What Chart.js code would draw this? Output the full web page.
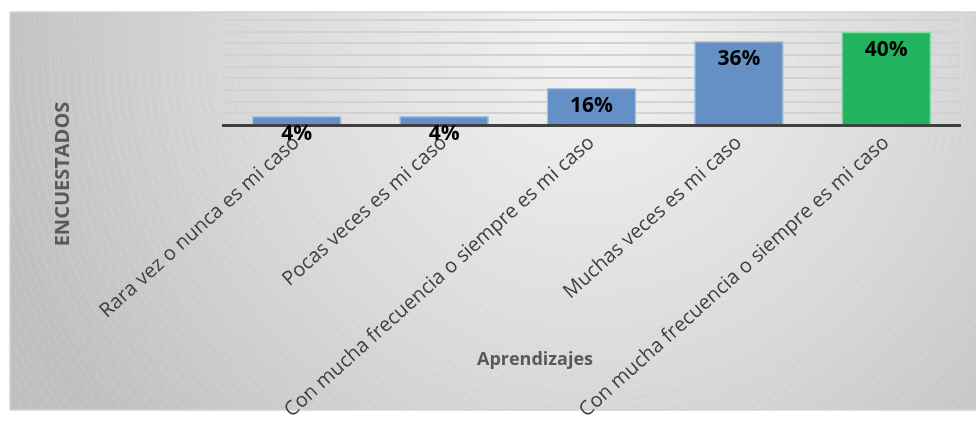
<!DOCTYPE html>
<html>
<head>
<meta charset="utf-8">
<script src="https://cdn.jsdelivr.net/npm/chart.js@4"></script>
<style>
  html, body { margin: 0; padding: 0; background: #ffffff; }
  #wrap { width: 976px; height: 427px; }
</style>
</head>
<body>
<div id="wrap"><canvas id="chart1"></canvas></div>
<script>
const categories = [
  "Rara vez o nunca es mi caso",
  "Pocas veces es mi caso",
  "Con mucha frecuencia o siempre es mi caso",
  "Muchas veces es mi caso",
  "Con mucha frecuencia o siempre es mi caso"
];
const percents = [4, 4, 16, 36, 40];
const barColors = ["#6590c5", "#6590c5", "#6590c5", "#6590c5", "#22b35e"];
const barBorders = ["#a9c3e0", "#a9c3e0", "#a9c3e0", "#a9c3e0", "#86d9a6"];

// gray panel with a soft radial light behind the chart
const panelBg = {
  id: "panelBg",
  beforeDraw(chart) {
    const c = chart.ctx;
    c.save();
    const x0 = 10, y0 = 12, x1 = 976, y1 = 410;
    const g = c.createRadialGradient(590, 40, 0, 590, 40, 620);
    g.addColorStop(0, "#f3f3f3");
    g.addColorStop(0.55, "#d9d9d9");
    g.addColorStop(1, "#bfbfbf");
    c.fillStyle = g;
    c.fillRect(x0, y0, x1 - x0, y1 - y0);
    // faint concentric rings
    c.beginPath();
    c.rect(x0, y0, x1 - x0, y1 - y0);
    c.clip();
    c.strokeStyle = "rgba(255,255,255,0.2)";
    c.lineWidth = 1;
    c.setLineDash([6, 3]);
    for (let r = 20; r < 800; r += 8) {
      c.beginPath();
      c.arc(590, 40, r, 0, Math.PI * 2);
      c.stroke();
    }
    c.restore();
    c.save();
    c.strokeStyle = "#d4d4d4";
    c.lineWidth = 1.5;
    c.beginPath();
    c.moveTo(x0, y0); c.lineTo(x1, y0);
    c.moveTo(x0, y1); c.lineTo(x1, y1);
    c.moveTo(x0, y0); c.lineTo(x0, y1);
    c.stroke();
    c.restore();
  }
};

// value labels and axis titles
const barLabels = {
  id: "barLabels",
  afterDatasetsDraw(chart) {
    const c = chart.ctx;
    const meta = chart.getDatasetMeta(0);
    c.save();
    c.font = "bold 21px 'Open Sans'";
    c.fillStyle = "#000000";
    c.textAlign = "center";
    c.textBaseline = "middle";
    meta.data.forEach((bar, i) => {
      c.fillText(percents[i] + "%", bar.x, bar.y + 18);
    });
    c.fillStyle = "#595959";
    c.font = "bold 18px 'Open Sans'";
    c.fillText("Aprendizajes", 535, 360);
    c.translate(63, 174);
    c.rotate(-Math.PI / 2);
    c.font = "bold 20px 'Open Sans'";
    c.fillText("ENCUESTADOS", 0, 0);
    c.restore();
  }
};

new Chart(document.getElementById("chart1").getContext("2d"), {
  type: "bar",
  data: {
    labels: categories,
    datasets: [{
      label: "Encuestados",
      data: percents,
      backgroundColor: barColors,
      borderColor: barBorders,
      borderWidth: 1.5,
      categoryPercentage: 1,
      barPercentage: 0.61
    }]
  },
  options: {
    responsive: true,
    maintainAspectRatio: false,
    animation: false,
    layout: { padding: { top: 20, right: 16, left: 0, bottom: 0 } },
    plugins: {
      legend: { display: false },
      tooltip: { enabled: false }
    },
    scales: {
      x: {
        grid: { display: false },
        border: { display: true, color: "#404040", width: 3 },
        ticks: {
          autoSkip: false,
          minRotation: 42,
          maxRotation: 42,
          padding: -2,
          color: "#404040",
          font: { family: "'Open Sans'", size: 20 }
        },
        afterFit(scale) { scale.height = 302; }
      },
      y: {
        min: 0,
        max: 45,
        ticks: { display: false, stepSize: 5 },
        grid: { color: "#d2d2d2", lineWidth: 2, drawTicks: false },
        border: { display: false },
        afterFit(scale) { scale.width = 223; }
      }
    }
  },
  plugins: [panelBg, barLabels]
});
</script>
</body>
</html>
